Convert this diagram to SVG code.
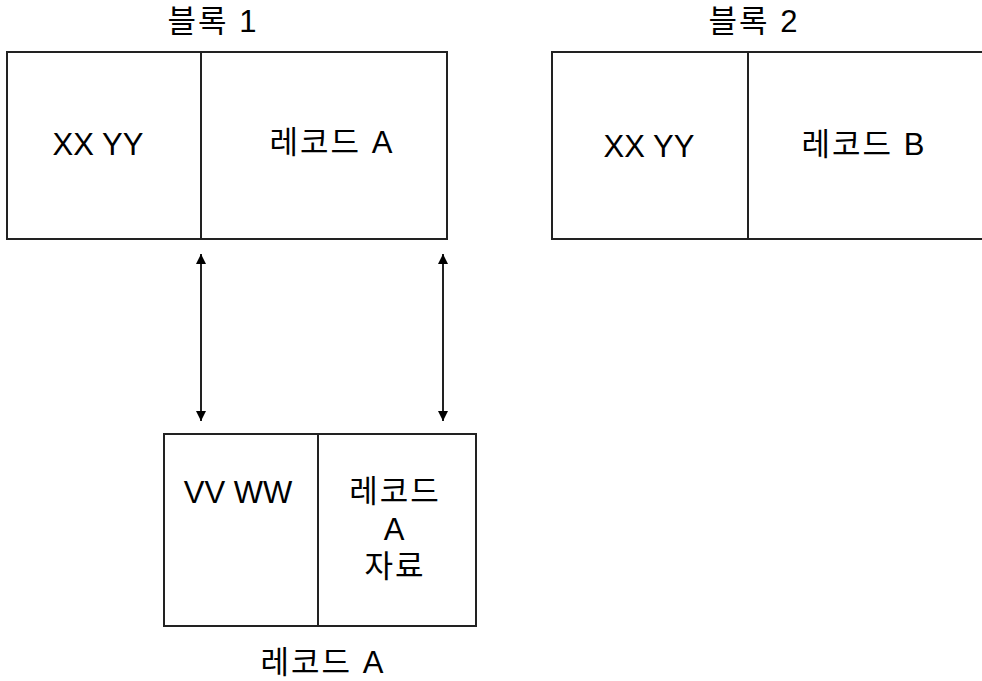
<svg xmlns="http://www.w3.org/2000/svg" width="982" height="681" viewBox="0 0 982 681">
<style>
.box{fill:#fff;stroke:#222;stroke-width:2}
.div{stroke:#222;stroke-width:2}
.t{font-family:"Liberation Sans","Noto Sans CJK KR",sans-serif;font-size:31px;fill:#000;text-anchor:middle}
.k{letter-spacing:2px}
.c{stroke:#222;stroke-width:2;fill:none;marker-start:url(#a);marker-end:url(#a)}
</style>
<defs>
<marker id="a" viewBox="0 0 10 10" refX="10" refY="5" markerWidth="5" markerHeight="5" orient="auto-start-reverse" markerUnits="strokeWidth">
<path d="M0,0 L10,5 L0,10 z" fill="#000"/>
</marker>
</defs>
<rect width="982" height="681" fill="#fff"/>
<g id="block1">
<rect class="box" x="7" y="52" width="440" height="187"/>
<line class="div" x1="201" y1="52" x2="201" y2="239"/>
<text class="t" x="98" y="155">XX YY</text>
<text class="t k" x="332" y="153">레코드 A</text>
<text class="t k" x="213" y="32">블록 1</text>
</g>
<g id="block2">
<rect class="box" x="552" y="52" width="440" height="187"/>
<line class="div" x1="748" y1="52" x2="748" y2="239"/>
<text class="t" x="649" y="157">XX YY</text>
<text class="t k" x="864" y="155">레코드 B</text>
<text class="t k" x="754" y="32">블록 2</text>
</g>
<g id="recordA">
<rect class="box" x="164" y="434" width="312" height="192"/>
<line class="div" x1="318" y1="434" x2="318" y2="626"/>
<text class="t" x="238" y="503">VV WW</text>
<text class="t k" x="395" y="502">레코드</text>
<text class="t" x="394" y="540">A</text>
<text class="t k" x="395" y="577">자료</text>
<text class="t k" x="323" y="673">레코드 A</text>
</g>
<g id="connectors">
<line class="c" x1="201" y1="254" x2="201" y2="421"/>
<line class="c" x1="443" y1="254" x2="443" y2="421"/>
</g>
</svg>
